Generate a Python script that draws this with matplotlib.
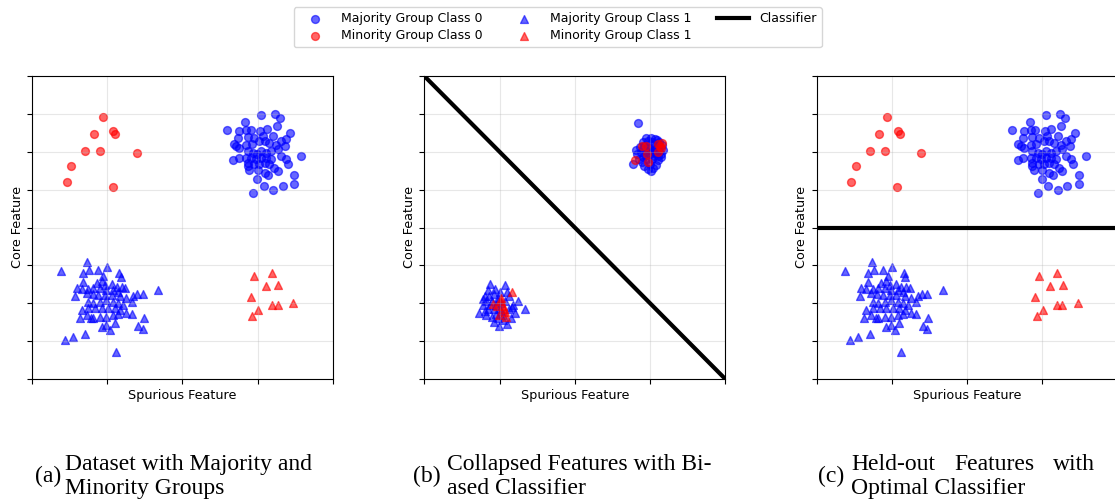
import numpy as np
import matplotlib
matplotlib.use('Agg')
import matplotlib.pyplot as plt

# === 데이터 ===
# (a), (c): 원래 특징 공간
maj0_x = [2.09, 2.47, 2.59, 1.67, 1.18, 1.51, 1.69, 1.81, 2.06, 2.24, 2.50, 2.87, 2.75, 1.47,
          1.73, 1.91, 2.13, 2.40, 2.62, 1.42, 1.36, 1.51, 1.69, 1.84, 2.04, 2.18, 2.31, 2.49,
          2.73, 3.15, 1.73, 1.87, 1.98, 2.09, 2.22, 2.35, 2.53, 2.62, 1.35, 1.49, 1.69, 1.82,
          1.96, 2.09, 2.22, 2.35, 2.75, 2.80, 1.73, 1.78, 1.91, 2.04, 2.18, 2.31, 2.44, 2.53,
          2.18, 2.28, 1.98, 2.97, 2.97, 2.16, 2.66, 2.41, 1.87, 1.73, 2.00]
maj0_y = [2.96, 2.99, 2.90, 2.78, 2.57, 2.55, 2.57, 2.57, 2.55, 2.59, 2.68, 2.50, 2.34, 2.37,
          2.40, 2.37, 2.41, 2.41, 2.28, 2.15, 2.21, 2.11, 2.19, 2.21, 2.28, 2.28, 2.24, 2.19,
          2.15, 1.90, 2.02, 1.97, 1.93, 2.02, 1.97, 2.02, 2.06, 1.89, 1.78, 1.84, 1.84, 1.84,
          1.80, 1.84, 1.84, 1.80, 1.82, 1.68, 1.62, 1.53, 1.67, 1.67, 1.71, 1.67, 1.58, 1.49,
          1.45, 1.38, 1.29, 1.38, 1.15, 1.09, 1.09, 0.98, 0.92, 1.71, 1.53]

maj1_x = [-2.53, -3.24, -2.64, -2.49, -2.24, -2.00, -1.69, -1.64, -2.11, -2.64, -2.28, -2.15,
          -2.06, -1.88, -1.75, -1.62, -1.53, -2.81, -2.68, -2.50, -2.37, -2.19, -2.02, -1.84,
          -1.71, -2.86, -2.55, -2.39, -2.24, -2.06, -1.88, -1.66, -1.49, -1.31, -1.20, -1.06,
          -0.65, -1.35, -2.50, -2.37, -2.19, -2.02, -1.84, -1.71, -1.58, -2.68, -2.50, -2.33,
          -2.15, -1.97, -1.80, -1.65, -1.50, -1.35, -2.73, -2.55, -2.37, -2.19, -2.02, -1.84,
          -1.71, -1.03, -2.15, -2.02, -1.93, -1.80, -1.18, -1.06, -2.59, -2.90, -3.12, -1.77,
          -2.42]
maj1_y = [-0.91, -1.14, -1.20, -1.12, -1.12, -1.05, -1.20, -1.32, -1.29, -1.44, -1.47, -1.41,
          -1.53, -1.50, -1.56, -1.56, -1.60, -1.60, -1.62, -1.63, -1.60, -1.60, -1.65, -1.65,
          -1.69, -1.82, -1.73, -1.76, -1.78, -1.78, -1.78, -1.82, -1.87, -1.82, -1.76, -1.76,
          -1.65, -1.96, -1.96, -2.00, -1.96, -1.91, -1.96, -2.00, -2.04, -2.18, -2.13, -2.13,
          -2.12, -2.13, -2.13, -2.18, -2.27, -2.29, -2.40, -2.31, -2.40, -2.35, -2.35, -2.31,
          -2.29, -2.38, -2.62, -2.58, -2.71, -2.53, -2.60, -2.69, -2.81, -2.88, -2.97, -3.28,
          -2.40]

min0_x = [-2.12, -2.35, -1.84, -1.79, -2.58, -2.19, -1.22, -2.96, -3.08, -1.86]
min0_y = [2.91, 2.48, 2.55, 2.48, 2.03, 2.03, 1.97, 1.62, 1.21, 1.06]

min1_x = [1.91, 2.38, 2.21, 2.55, 1.81, 2.94, 2.38, 2.53, 2.01, 1.85]
min1_y = [-1.29, -1.20, -1.54, -1.52, -1.84, -1.99, -2.04, -2.04, -2.19, -2.33]

# (b): 붕괴된(collapsed) 특징
col_maj0_x = [1.68, 1.56, 2.02, 1.95, 2.08, 1.85, 2.15, 1.70, 1.80, 1.92, 2.05, 2.20, 2.30,
              1.65, 1.75, 1.88, 2.00, 2.12, 2.25, 2.35, 1.72, 1.85, 1.98, 2.10, 2.22, 2.32,
              1.82, 1.95, 2.05, 2.18, 2.25, 1.90, 2.02, 2.12, 1.78, 2.00, 2.22, 1.62, 2.28,
              1.97, 2.05, 1.90, 2.10, 1.80, 2.15]
col_maj0_y = [2.77, 1.67, 1.49, 1.55, 1.58, 1.62, 1.65, 1.80, 1.85, 1.82, 1.80, 1.78, 1.85,
              1.95, 2.00, 2.02, 1.95, 1.98, 2.00, 2.05, 2.12, 2.15, 2.10, 2.12, 2.15, 2.18,
              2.25, 2.28, 2.25, 2.30, 2.25, 2.35, 2.35, 2.33, 1.72, 1.68, 1.88, 2.05, 1.95,
              2.05, 2.02, 1.92, 1.90, 2.08, 2.08]
col_min0_x = [1.79, 2.21, 2.32, 1.91, 2.21, 1.61, 1.95, 2.26, 1.88, 2.30]
col_min0_y = [2.15, 2.20, 2.23, 1.95, 1.99, 1.78, 1.73, 2.15, 2.16, 2.10]

col_maj1_x = [-1.33, -2.54, -2.02, -1.86, -2.26, -1.52, -2.40, -2.45, -2.30, -2.15, -2.00,
              -1.75, -2.35, -2.20, -2.05, -1.85, -1.65, -2.30, -2.15, -1.95, -1.75, -1.60,
              -2.20, -2.05, -1.90, -2.15, -1.70, -2.40, -2.10, -1.95, -2.28, -1.80, -2.05,
              -2.25, -2.10, -1.90, -1.80, -2.35, -2.00, -2.12, -1.68, -2.45]
col_maj1_y = [-2.14, -2.26, -2.60, -1.51, -1.49, -1.93, -1.80, -2.05, -1.65, -1.75, -1.70,
              -1.80, -1.95, -1.95, -1.85, -1.95, -2.05, -2.15, -2.15, -2.20, -2.15, -2.25,
              -2.35, -2.40, -2.45, -2.50, -2.40, -2.20, -2.05, -2.00, -1.80, -2.55, -1.95,
              -2.05, -2.28, -2.30, -1.70, -2.32, -2.15, -1.62, -2.10, -1.90]
col_min1_x = [-1.67, -1.97, -2.17, -1.91, -1.86, -1.82, -2.08, -1.95, -1.88, -2.02]
col_min1_y = [-1.71, -1.87, -2.02, -2.08, -2.24, -2.35, -2.08, -1.95, -2.15, -2.30]

# 분류기 직선
biased_x = [-4, 4]
biased_y = [4, -4]
optimal_x = [-4, 4]
optimal_y = [0, 0]

captions = [('(a)', ['Dataset with Majority and', 'Minority Groups']),
            ('(b)', ['Collapsed Features with Bi-', 'ased Classifier']),
            ('(c)', ['Held-out Features with', 'Optimal Classifier'])]

W, H = 1115, 501
fig = plt.figure(figsize=(W / 100, H / 100), dpi=100)

SERIF = ['Liberation Serif', 'DejaVu Serif']
BLUE, RED = 'blue', 'red'
S, ALPHA = 32, 0.6

ax_left = [32, 424.3, 816.7]
ax_w, ax_top, ax_bot = 301, 76, 379


def setup(ax):
    ax.set_xlim(-4, 4); ax.set_ylim(-4, 4)
    ax.set_xticks([-4, -2, 0, 2, 4]); ax.set_yticks(np.arange(-4, 5, 1))
    ax.set_xticklabels([]); ax.set_yticklabels([])
    ax.grid(True, alpha=0.3)
    ax.set_xlabel('Spurious Feature', fontsize=9.2, labelpad=0)
    ax.set_ylabel('Core Feature', fontsize=9.2, labelpad=-1)


axes = []
for l in ax_left:
    ax = fig.add_axes([l / W, 1 - ax_bot / H, ax_w / W, (ax_bot - ax_top) / H])
    setup(ax)
    axes.append(ax)

# (a)
ax = axes[0]
ax.scatter(maj0_x, maj0_y, c=BLUE, marker='o', s=S, alpha=ALPHA, label='Majority Group Class 0')
ax.scatter(min0_x, min0_y, c=RED, marker='o', s=S, alpha=ALPHA, label='Minority Group Class 0')
ax.scatter(maj1_x, maj1_y, c=BLUE, marker='^', s=S, alpha=ALPHA, label='Majority Group Class 1')
ax.scatter(min1_x, min1_y, c=RED, marker='^', s=S, alpha=ALPHA, label='Minority Group Class 1')

# (b)
ax = axes[1]
ax.scatter(col_maj0_x, col_maj0_y, c=BLUE, marker='o', s=S, alpha=ALPHA)
ax.scatter(col_min0_x, col_min0_y, c=RED, marker='o', s=S, alpha=ALPHA)
ax.scatter(col_maj1_x, col_maj1_y, c=BLUE, marker='^', s=S, alpha=ALPHA)
ax.scatter(col_min1_x, col_min1_y, c=RED, marker='^', s=S, alpha=ALPHA)
ax.plot(biased_x, biased_y, color='black', lw=3, label='Classifier')

# (c)
ax = axes[2]
ax.scatter(maj0_x, maj0_y, c=BLUE, marker='o', s=S, alpha=ALPHA)
ax.scatter(min0_x, min0_y, c=RED, marker='o', s=S, alpha=ALPHA)
ax.scatter(maj1_x, maj1_y, c=BLUE, marker='^', s=S, alpha=ALPHA)
ax.scatter(min1_x, min1_y, c=RED, marker='^', s=S, alpha=ALPHA)
ax.plot(optimal_x, optimal_y, color='black', lw=3)

# 범례 (열 우선 순서)
h, lab = axes[0].get_legend_handles_labels()
hb, lb = axes[1].get_legend_handles_labels()
fig.legend(h + hb, lab + lb, loc='upper center', bbox_to_anchor=(0.5, 0.998), ncol=3,
           fontsize=9, columnspacing=2.0, handlelength=2.6,
           borderpad=0.4, labelspacing=0.3)

# 캡션
FS = 17
cap_x = [(35, 65, None), (413, 447, None), (818, 851, 1095)]
renderer = fig.canvas.get_renderer()
for (tag, lines), (tx, lx, rx) in zip(captions, cap_x):
    fig.text(tx / W, 1 - 476 / H, tag, family=SERIF, fontsize=FS, va='center', ha='left')
    if rx is not None:
        # 양쪽 정렬된 첫 줄: 단어 사이 간격을 균등하게
        words = lines[0].split()
        txts = [fig.text(0, 1 - 470 / H, w, family=SERIF, fontsize=FS, va='baseline')
                for w in words]
        widths = [t.get_window_extent(renderer).width for t in txts]
        gap = (rx - lx - sum(widths)) / (len(words) - 1)
        x = lx
        for t, wd in zip(txts, widths):
            t.set_x(x / W)
            x += wd + gap
    else:
        fig.text(lx / W, 1 - 470 / H, lines[0], family=SERIF, fontsize=FS, va='baseline')
    fig.text(lx / W, 1 - 494 / H, lines[1], family=SERIF, fontsize=FS, va='baseline')

fig.savefig('out.png', dpi=100)
